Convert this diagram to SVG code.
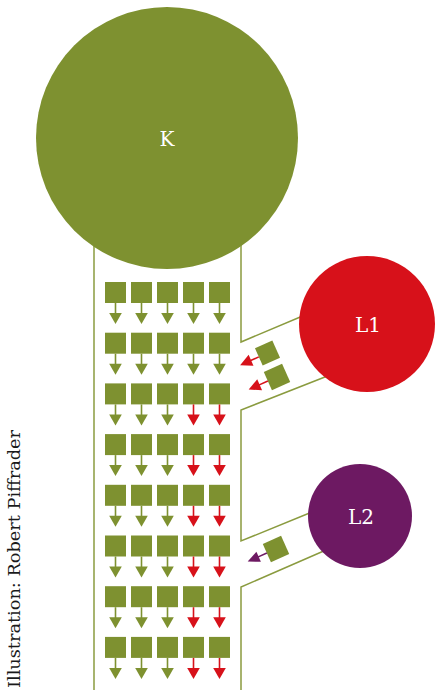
<svg xmlns="http://www.w3.org/2000/svg" width="435" height="690" viewBox="0 0 435 690">
<style>
.ch{fill:none;stroke:#8a9b3f;stroke-width:1.5}
.sq{fill:#7e9130}
.sg{stroke:#7e9130;stroke-width:1.6}
.sr{stroke:#d7111a;stroke-width:1.6}
.hg{fill:#7e9130}
.hr{fill:#d7111a}
.lbl{font-family:"DejaVu Serif","Liberation Serif",serif;font-size:20px;fill:#fff;text-anchor:middle;dominant-baseline:central}
</style>
<defs>
<g id="ag"><rect class="sq" x="-10.5" y="0" width="21" height="21"/><line class="sg" x1="0" y1="21" x2="0" y2="32"/><polygon class="hg" points="-6.3,31 6.3,31 0,42"/></g>
<g id="ar"><rect class="sq" x="-10.5" y="0" width="21" height="21"/><line class="sr" x1="0" y1="21" x2="0" y2="32"/><polygon class="hr" points="-6.3,31 6.3,31 0,42"/></g>
</defs>
<g id="connectors">
<line class="ch" x1="94" y1="230" x2="94" y2="690"/>
<polyline class="ch" points="241,230 241,342 305,315"/>
<polyline class="ch" points="330,375 241,410 241,541 312,512"/>
<polyline class="ch" points="326,550 241,587 241,690"/>
</g>
<g id="K"><circle cx="167" cy="138" r="131" fill="#7e9130"/><text class="lbl" x="167" y="139">K</text></g>
<g id="L1"><circle cx="367" cy="324" r="68" fill="#d7111a"/><text class="lbl" x="368" y="325">L1</text></g>
<g id="L2"><circle cx="360" cy="516" r="52" fill="#6d1962"/><text class="lbl" x="361" y="517">L2</text></g>
<g id="grid">
<use href="#ag" x="115.5" y="282"/><use href="#ag" x="141.5" y="282"/><use href="#ag" x="167.5" y="282"/><use href="#ag" x="193.5" y="282"/><use href="#ag" x="219.5" y="282"/>
<use href="#ag" x="115.5" y="332.7"/><use href="#ag" x="141.5" y="332.7"/><use href="#ag" x="167.5" y="332.7"/><use href="#ag" x="193.5" y="332.7"/><use href="#ag" x="219.5" y="332.7"/>
<use href="#ag" x="115.5" y="383.4"/><use href="#ag" x="141.5" y="383.4"/><use href="#ag" x="167.5" y="383.4"/><use href="#ar" x="193.5" y="383.4"/><use href="#ar" x="219.5" y="383.4"/>
<use href="#ag" x="115.5" y="434.1"/><use href="#ag" x="141.5" y="434.1"/><use href="#ag" x="167.5" y="434.1"/><use href="#ar" x="193.5" y="434.1"/><use href="#ar" x="219.5" y="434.1"/>
<use href="#ag" x="115.5" y="484.8"/><use href="#ag" x="141.5" y="484.8"/><use href="#ag" x="167.5" y="484.8"/><use href="#ar" x="193.5" y="484.8"/><use href="#ar" x="219.5" y="484.8"/>
<use href="#ag" x="115.5" y="535.5"/><use href="#ag" x="141.5" y="535.5"/><use href="#ag" x="167.5" y="535.5"/><use href="#ar" x="193.5" y="535.5"/><use href="#ar" x="219.5" y="535.5"/>
<use href="#ag" x="115.5" y="586.2"/><use href="#ag" x="141.5" y="586.2"/><use href="#ag" x="167.5" y="586.2"/><use href="#ar" x="193.5" y="586.2"/><use href="#ar" x="219.5" y="586.2"/>
<use href="#ag" x="115.5" y="636.9"/><use href="#ag" x="141.5" y="636.9"/><use href="#ag" x="167.5" y="636.9"/><use href="#ar" x="193.5" y="636.9"/><use href="#ar" x="219.5" y="636.9"/>
</g>
<g id="L1out">
<g transform="translate(267.5,353) rotate(-24)"><rect class="sq" x="-9.5" y="-9.5" width="19" height="19"/><line class="sr" x1="-9.5" y1="0" x2="-19" y2="0"/><polygon class="hr" points="-18,-6 -18,6 -30,0"/></g>
<g transform="translate(277,377) rotate(-24)"><rect class="sq" x="-10" y="-10" width="20" height="20"/><line class="sr" x1="-10" y1="0" x2="-20" y2="0"/><polygon class="hr" points="-19,-6 -19,6 -31,0"/></g>
</g>
<g id="L2out">
<g transform="translate(276,549) rotate(-24)"><rect class="sq" x="-10" y="-10" width="20" height="20"/><line stroke="#6d1962" stroke-width="1.6" x1="-10" y1="0" x2="-20" y2="0"/><polygon fill="#6d1962" points="-19,-5.5 -19,5.5 -31,0"/></g>
</g>
<text transform="translate(20,688) rotate(-90)" font-family="'DejaVu Serif','Liberation Serif',serif" font-size="16" fill="#1a1a1a" textLength="258" lengthAdjust="spacingAndGlyphs">Illustration: Robert Piffrader</text>
</svg>
